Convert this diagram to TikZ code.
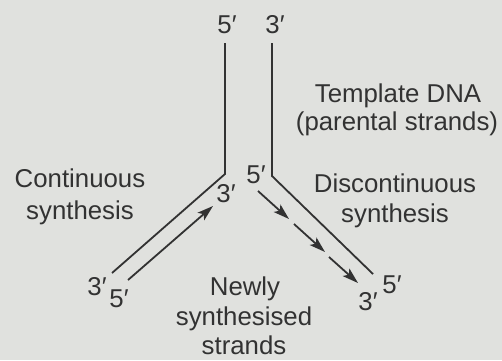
\documentclass[tikz,border=0pt]{standalone}
\usepackage{fontspec}
\setmainfont{Liberation Sans}
\usepackage{tikz}
\usetikzlibrary{arrows.meta}
\definecolor{paper}{RGB}{224,225,222}
\definecolor{ink}{RGB}{50,50,50}

\begin{document}
\begin{tikzpicture}[x=0.5pt, y=-0.5pt, >={Stealth[length=8pt,width=5pt,inset=1.8pt]},
		strand/.style={draw=ink, line width=0.9pt},
		lbl/.style={text=ink, anchor=base, inner sep=0pt, font=\fontsize{12.9}{14}\selectfont}]
			\fill[paper] (0,0) rectangle (502,360);
			\useasboundingbox (0,0) rectangle (502,360);
			
			% ========== 母链（模板） ==========
			\coordinate (ltop) at (225,43);
			\coordinate (lfork) at (225,174);
			\coordinate (lend) at (112,273);
			\coordinate (rtop) at (272,43);
			\coordinate (rfork) at (272,176);
			\coordinate (rend) at (373,274);
			\draw[strand] (ltop) -- (lfork) -- (lend);
			\draw[strand] (rtop) -- (rfork) -- (rend);
			
			% ========== 新链 ==========
			\coordinate (lead0) at (128,280);
			\coordinate (lead1) at (213,206);
			\draw[strand,->] (lead0) -- (lead1);
			
			\coordinate (lagA0) at (258,191); \coordinate (lagA1) at (289,219);
			\coordinate (lagB0) at (294,224); \coordinate (lagB1) at (325,252);
			\coordinate (lagC0) at (329,257); \coordinate (lagC1) at (358,283);
			\draw[strand,->] (lagA0) -- (lagA1);
			\draw[strand,->] (lagB0) -- (lagB1);
			\draw[strand,->] (lagC0) -- (lagC1);
			
			% ========== 5'/3' 端 ==========
			\node[lbl] (ltopend) at (227,33) {5′};
			\node[lbl] (rtopend) at (275,33) {3′};
			\node[lbl] (leadend) at (226,202) {3′};
			\node[lbl] (lagend) at (256,183) {5′};
			\node[lbl] (lbot3) at (97,295) {3′};
			\node[lbl] (lbot5) at (119,307) {5′};
			\node[lbl] (rbot5) at (392,293) {5′};
			\node[lbl] (rbot3) at (368,310) {3′};
			
			% ========== 文字 ==========
			\node[lbl] (tmpl1) at (398,102) {Template DNA};
			\node[lbl] (tmpl2) at (397,130) {(parental strands)};
			\node[lbl] (cont1) at (80,187) {Continuous};
			\node[lbl] (cont2) at (80,219) {synthesis};
			\node[lbl] (disc1) at (395,192) {Discontinuous};
			\node[lbl] (disc2) at (395,222) {synthesis};
			\node[lbl] (new1) at (245,295) {Newly};
			\node[lbl] (new2) at (244,325) {synthesised};
			\node[lbl] (new3) at (244,354) {strands};
		\end{tikzpicture}
\end{document}
